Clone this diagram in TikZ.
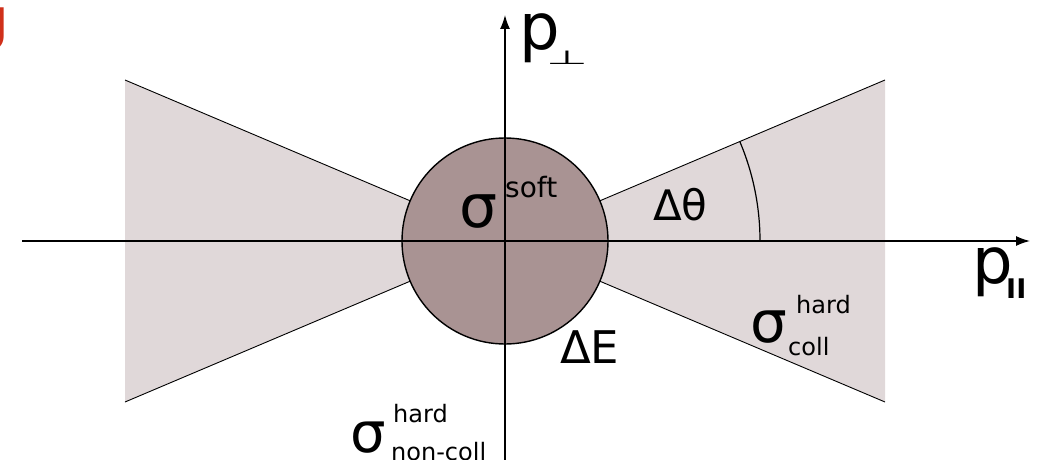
\documentclass[tikz,border=0pt]{standalone}
\usepackage{fontspec}
\setmainfont{DejaVu Sans}
\usetikzlibrary{arrows.meta}
\definecolor{conefill}{HTML}{E0D8D9}
\definecolor{circfill}{HTML}{A99393}
\definecolor{redg}{HTML}{D0301A}
\newcommand\fsz[1]{\fontsize{#1}{#1}\selectfont}
\begin{document}
\begin{tikzpicture}[x=1pt,y=-1pt,
  lbl/.style={inner sep=0pt,anchor=base west,text=black},
  axisline/.style={line width=1.4pt,-{Latex[length=14pt,width=10pt]}},
  coneedge/.style={line width=0.9pt},
]
\useasboundingbox (0,0) rectangle (1049,460);
% coordinates
\coordinate (O) at (505,241);
\coordinate (LT) at (125,80);
\coordinate (LB) at (125,402);
\coordinate (RT) at (885,80);
\coordinate (RB) at (885,402);
\coordinate (XL) at (22,241);
\coordinate (XR) at (1030,241);
\coordinate (YB) at (505,462);
\coordinate (YT) at (505,15);
\coordinate (A0) at (760,241);
% cones
\fill[conefill] (O) -- (LT) -- (LB) -- cycle;
\fill[conefill] (O) -- (RT) -- (RB) -- cycle;
\draw[coneedge] (LT) -- (RB);
\draw[coneedge] (LB) -- (RT);
% soft circle
\draw[line width=1.4pt, fill=circfill] (O) circle[radius=103];
% axes
\draw[axisline] (XL) -- (XR);
\draw[axisline] (YB) -- (YT);
% angle arc
\draw[line width=1.2pt] (A0) arc[start angle=0, end angle=-23, radius=255];
% labels
\node[lbl] (sig1) at (459,227) {\fsz{60}σ};
\node[lbl] (soft) at (505,197) {\fsz{28}soft};
\node[lbl] (pperp) at (519,50) {\fsz{64}p};
\node[lbl] (perp) at (546,65) {\scalebox{1}[0.4]{\fsz{48}⊥}};
\node[lbl] (ppar) at (972,283) {\fsz{64}p};
\node[lbl] (par) at (1006,298) {\fsz{27}\bfseries II};
\node[lbl] (dth) at (653,220) {\fsz{42}Δθ};
\node[lbl] (dE) at (560,363) {\fsz{45}ΔE};
\node[lbl] (sig2) at (750,342) {\fsz{58}σ};
\node[lbl] (hard2) at (796,313) {\fsz{24}hard};
\node[lbl] (coll2) at (788,355) {\fsz{24}coll};
\node[lbl] (sig3) at (350,452) {\fsz{56}σ};
\node[lbl] (hard3) at (393,422) {\fsz{24}hard};
\node[lbl] (coll3) at (391,460) {\fsz{24}non-coll};
\node[inner sep=0pt,anchor=base east,text=redg] (gfrag) at (9,40) {\fsz{58}\bfseries g};
\end{tikzpicture}
\end{document}
